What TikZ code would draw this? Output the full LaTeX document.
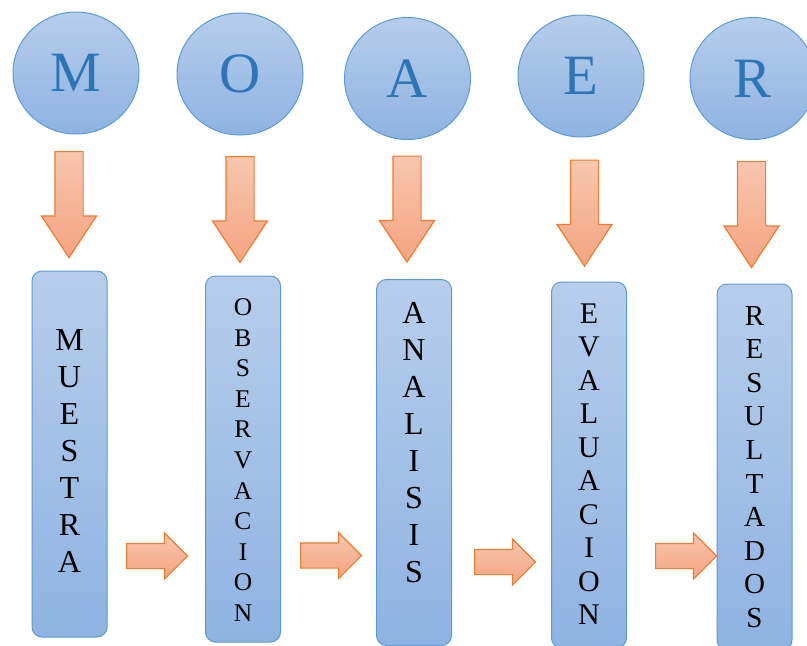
\documentclass[tikz,border=0pt]{standalone}
\usepackage{fontspec}
\setmainfont{Liberation Serif}
\usetikzlibrary{shapes.geometric,shapes.arrows}

\definecolor{blueTop}{RGB}{183,205,235}
\definecolor{blueBot}{RGB}{142,179,226}
\definecolor{blueLine}{RGB}{91,155,213}
\definecolor{blueText}{RGB}{46,117,182}
\definecolor{peachTop}{RGB}{248,198,174}
\definecolor{peachBot}{RGB}{244,164,128}
\definecolor{orangeLine}{RGB}{237,125,49}

\begin{document}
\begin{tikzpicture}[x=1pt,y=-1pt,
	stagenode/.style={ellipse, draw=blueLine, line width=1pt, top color=blueTop, bottom color=blueBot, minimum width=126pt, minimum height=122pt, inner sep=0pt, text=blueText, font=\fontsize{57}{57}\selectfont},
	columnnode/.style={rectangle, rounded corners=10pt, draw=blueLine, line width=1pt, top color=blueTop, bottom color=blueBot, minimum width=75pt, minimum height=366pt, inner sep=0pt},
	wordnode/.style={align=center, inner sep=0pt},
	downarrow/.style={single arrow, rotate=-90, anchor=tail, draw=orangeLine, line width=1.2pt, top color=peachTop, bottom color=peachBot, minimum height=106pt, inner xsep=0pt, inner ysep=13.5pt, single arrow head extend=13.5pt, single arrow tip angle=67},
	rightarrow/.style={single arrow, anchor=tail, draw=orangeLine, line width=1.2pt, top color=peachTop, bottom color=peachBot, minimum height=61pt, inner xsep=0pt, inner ysep=12pt, single arrow head extend=10.5pt, single arrow tip angle=90},
	]
	\useasboundingbox (0,0) rectangle (807,646);
	
	%Circles
	\node[stagenode] (cM) at (76,73)   {M};
	\node[stagenode] (cO) at (240,74)  {O};
	\node[stagenode] (cA) at (407.5,78.5) {A};
	\node[stagenode] (cE) at (581,76)  {E};
	\node[stagenode] (cR) at (753,78.5) {R};
	
	%Down arrows
	\node[downarrow] (dM) at (69,151)  {};
	\node[downarrow] (dO) at (240,156) {};
	\node[downarrow] (dA) at (407,155.5) {};
	\node[downarrow] (dE) at (584.5,159.5) {};
	\node[downarrow] (dR) at (751.5,161) {};
	
	%Columns
	\node[columnnode] (bMue) at (69.5,454)  {};
	\node[columnnode] (bObs) at (243,459)   {};
	\node[columnnode] (bAna) at (414,462.5) {};
	\node[columnnode] (bEva) at (589,465)   {};
	\node[columnnode] (bRes) at (754.5,467) {};
	
	%Words
	\node[wordnode, font=\fontsize{32}{37}\selectfont] (wMue) at (69.5,451) {M\\U\\E\\S\\T\\R\\A};
	\node[wordnode, font=\fontsize{25.5}{30.6}\selectfont] (wObs) at (243,460) {O\\B\\S\\E\\R\\V\\A\\C\\I\\O\\N};
	\node[wordnode, font=\fontsize{32}{37}\selectfont] (wAna) at (414,442.5) {A\\N\\A\\L\\I\\S\\I\\S};
	\node[wordnode, font=\fontsize{30}{33.5}\selectfont] (wEva) at (589,464) {E\\V\\A\\L\\U\\A\\C\\I\\O\\N};
	\node[wordnode, font=\fontsize{29}{33.6}\selectfont] (wRes) at (754.5,467) {R\\E\\S\\U\\L\\T\\A\\D\\O\\S};
	
	%Right arrows
	\node[rightarrow] (r1) at (126,556) {};
	\node[rightarrow] (r2) at (300,555.5) {};
	\node[rightarrow] (r3) at (474,562) {};
	\node[rightarrow] (r4) at (655,556) {};
	
\end{tikzpicture}
\end{document}
